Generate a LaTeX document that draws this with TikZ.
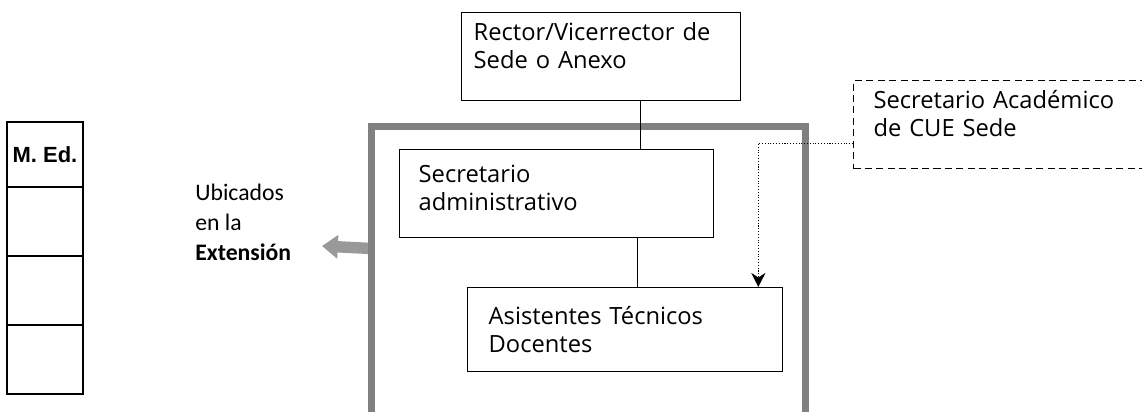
\documentclass[tikz,border=0pt]{standalone}
\usepackage{fontspec}
\setmainfont{Open Sans}
\newfontfamily\calibrifont{Carlito}
\newfontfamily\arialfont{Liberation Sans}
\usetikzlibrary{arrows.meta,positioning}
\newcommand{\lift}[1]{\rule[-#1]{0pt}{0pt}}
\begin{document}
\begin{tikzpicture}[x=0.02cm,y=-0.02cm,
    orgbox/.style={draw,line width=.8pt,anchor=north west,align=left,
      font=\fontsize{13.5}{16}\selectfont,inner ysep=0pt},
    cell/.style={draw,line width=1.3pt,outer sep=0pt,inner xsep=1pt,
      minimum width=1.52cm,font=\arialfont\bfseries\fontsize{12.5}{14}\selectfont},
    extframe/.style={draw=black!50,line width=2.8pt,anchor=north west},
    fatarrow/.style={draw=black!40,line width=6.5pt,
      -{Triangle[length=9pt,width=13pt]}}]
  \useasboundingbox (0,0) rectangle (1142,412);
  \clip (0,0) rectangle (1142,412);
  % table on the left
  \node[cell,minimum height=1.3cm,anchor=north west] (med0) at (7,122) {M. Ed.};
  \foreach \r [count=\i from 1] in {0,1,2}
    \node[cell,minimum height=1.38cm,below=0pt of med\r] (med\i) {};
  % text and arrow
  \node[align=left,anchor=west,inner sep=0pt,
    font=\calibrifont\fontsize{13.5}{17}\selectfont] (ubic) at (195,222)
    {Ubicados\\en la\\\textbf{Extensión}};
  \coordinate (ubicarrow) at (322,246);
  \node[extframe,minimum width=8.64cm,minimum height=6.6cm] (ext) at (370,125) {};
  \draw[fatarrow] ([yshift=.88cm]ext.west) -- (ubicarrow);
  \draw[extframe] (ext.north west) rectangle (ext.south east);
  % boxes
  \node[orgbox,minimum height=1.76cm,text width=5.1cm,inner xsep=.24cm] (rector) at (461,12)
    {Rector/Vicerrector de\\Sede o Anexo\lift{13pt}};
  \node[orgbox,minimum height=1.76cm,text width=5.52cm,inner xsep=.38cm] (admin) at (399,149)
    {Secretario\\administrativo\lift{6.5pt}};
  \node[orgbox,minimum height=1.68cm,text width=5.46cm,inner xsep=.42cm] (asist) at (467,287)
    {Asistentes Técnicos\\Docentes};
  \node[orgbox,dashed,dash pattern=on 4pt off 2.5pt,line width=.6pt,
    minimum height=1.76cm,text width=5.6cm,inner xsep=.4cm] (acad) at (853,80)
    {Secretario Académico\\de CUE Sede\lift{13pt}};
  % connectors
  \draw[line width=.8pt] ([xshift=.79cm]rector.south) -- ([xshift=.79cm]rector.south |- admin.north);
  \draw[line width=.8pt] ([xshift=1.62cm]admin.south) -- ([xshift=1.62cm]admin.south |- asist.north);
  \draw[densely dotted,line width=.6pt,-{Stealth[length=8pt,width=8pt]}]
    ([yshift=.52cm]acad.south west) -| ([xshift=-.5cm]asist.north east);
\end{tikzpicture}
\end{document}
